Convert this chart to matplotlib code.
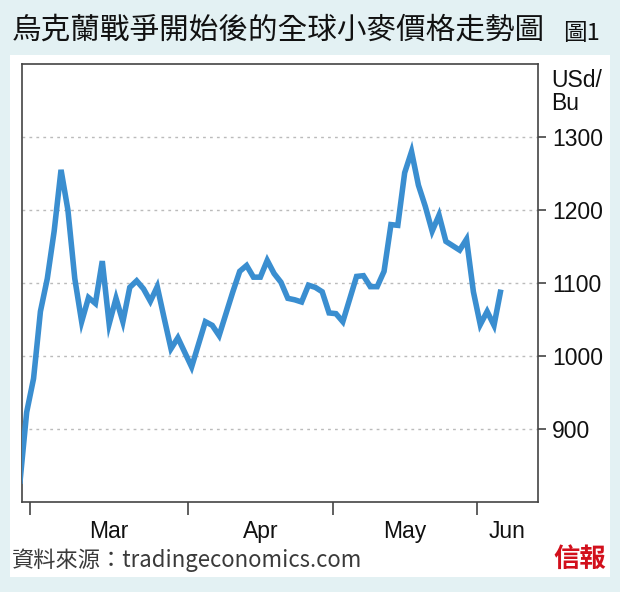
import matplotlib
matplotlib.use("Agg")
import matplotlib.pyplot as plt
from matplotlib.patches import Rectangle
import numpy as np

# ---- data (wheat price, USd/Bu, trading-day index) ----
prices = [825, 923, 969, 1061, 1106, 1171, 1255, 1200, 1106, 1047,
          1080, 1072, 1130, 1044, 1079, 1047, 1094, 1103, 1092, 1075,
          1095, 1052, 1010, 1025, 1005, 985, 1016, 1047, 1042, 1028,
          1058, 1088, 1116, 1124, 1108, 1108, 1131, 1113, 1101, 1079,
          1077, 1074, 1097, 1094, 1088, 1059, 1058, 1047, 1078, 1109,
          1110, 1095, 1095, 1116, 1180, 1179, 1251, 1280, 1234, 1205,
          1171, 1193, 1157, 1151, 1145, 1160, 1088, 1043, 1061, 1042,
          1091]
month_labels = ["Mar", "Apr", "May", "Jun"]
month_bounds = [1.5, 24.5, 45.5, 66.5]   # boundaries between months (index units)
y_ticks = [900, 1000, 1100, 1200, 1300]
title = "烏克蘭戰爭開始後的全球小麥價格走勢圖"
fig_no = "圖1"
source = "資料來源：tradingeconomics.com"
unit = "USd/\nBu"
brand = "信報"

CJK = ["Noto Sans CJK TC", "DejaVu Sans"]
LAT = ["Liberation Sans", "DejaVu Sans"]

W, H = 620, 592
fig = plt.figure(figsize=(W / 100, H / 100), dpi=100)
fig.patch.set_facecolor("#e3f1f3")

def px(x, y):
    return x / W, 1 - y / H

fig.patches.append(Rectangle((10 / W, 1 - 577 / H), 600 / W, (577 - 55) / H,
                             transform=fig.transFigure, facecolor="white",
                             edgecolor="none", zorder=-5))

ax_l, ax_r, ax_t, ax_b = 22, 538, 64, 502
ax = fig.add_axes([ax_l / W, 1 - ax_b / H, (ax_r - ax_l) / W, (ax_b - ax_t) / H])
ax.set_zorder(5)
ax.set_facecolor("white")

x = np.arange(len(prices))
ax.plot(x, prices, color="#3a8ed0", lw=4.0, solid_joinstyle="miter",
        solid_capstyle="butt", zorder=3)

xmin, xmax = 0.32, 75.4
ax.set_xlim(xmin, xmax)
ax.set_ylim(800, 1400)

for s in ax.spines.values():
    s.set_color("#444444")
    s.set_linewidth(1.2)

ax.yaxis.tick_right()
ax.set_yticks(y_ticks)
ax.set_yticklabels([str(v) for v in y_ticks], fontfamily=LAT, fontsize=16.5,
                   color="#111111")
ax.tick_params(axis="y", which="major", direction="out", length=6, width=1.2,
               color="#444444", pad=4)
ax.grid(axis="y", color="#bbbbbb", linestyle=(0, (2, 3)), lw=1.0, zorder=1)

ax.set_xticks(month_bounds)
ax.set_xticklabels([])
ax.tick_params(axis="x", which="major", direction="out", length=9, width=1.2,
               color="#444444")
centers = [(month_bounds[i] + (month_bounds[i + 1] if i + 1 < len(month_bounds) else xmax)) / 2
           for i in range(len(month_bounds))]
ax.set_xticks(centers, minor=True)
ax.set_xticklabels(month_labels, minor=True, fontfamily=LAT, fontsize=16.5,
                   color="#111111")
ax.tick_params(axis="x", which="minor", length=0, pad=13)

fig.text(*px(551, 92), unit, fontfamily=LAT, fontsize=16.5, color="#111111",
         ha="left", va="center", linespacing=1.05)

fig.text(*px(12, 30), title, fontfamily=CJK, fontsize=21.3, color="#111111",
         ha="left", va="center", fontweight="medium")
fig.text(*px(563, 33), fig_no, fontfamily=CJK, fontsize=17, color="#111111",
         ha="left", va="center")

fig.text(*px(12, 560), source, fontfamily=CJK, fontsize=16, color="#3a3a3a",
         ha="left", va="center", fontweight="light")
fig.text(*px(606, 559), brand, fontfamily=CJK, fontsize=19, color="#d2101c",
         ha="right", va="center", fontweight="black")

fig.savefig("out.png", dpi=100, facecolor=fig.get_facecolor())
